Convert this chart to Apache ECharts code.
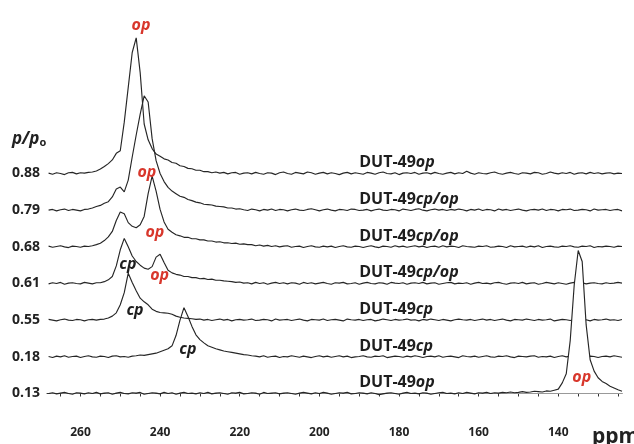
<!DOCTYPE html>
<html>
<head>
<meta charset="utf-8">
<script src="https://cdn.jsdelivr.net/npm/echarts@6/dist/echarts.min.js"></script>
<style>
html,body{margin:0;padding:0;background:#fff;}
#chart{width:634px;height:444px;}
</style>
</head>
<body>
<div id="chart"></div>
<script>
// chemical shift sampling (ppm), one point per ppm from 268 down to 124
const ppm = [];
for (let v = 268; v >= 124; v -= 1) ppm.push(v);

// relative pressures, bottom to top
const pressures = ['0.13', '0.18', '0.55', '0.61', '0.68', '0.79', '0.88'];
// phase tag of each spectrum, bottom to top
const phaseTags = ['op', 'cp', 'cp', 'cp/op', 'cp/op', 'cp/op', 'op'];
// x-axis labels and ticks
const axisLabels = [260, 240, 220, 200, 180, 160, 140];
const axisTicks = [125,130,135,140,145,150,155,160,165,170,175,180,185,190,195,200,205,210,215,220,225,230,235,240,245,250,255,260,265];

// spectra intensities (row spacing = 1), ppm 268 -> 124
const s013 = [
0.00,0.02,-0.01,0.01,0.03,0.00,-0.02,0.02,0.01,-0.01,
0.02,0.00,0.03,-0.01,0.01,0.02,-0.02,0.01,0.03,0.00,
-0.01,0.02,0.01,0.03,-0.02,0.00,0.02,0.01,-0.01,0.03,
0.00,0.02,-0.02,0.01,0.03,0.00,0.01,-0.01,0.02,0.00,
0.03,-0.01,0.01,0.02,0.00,-0.02,0.02,0.01,0.03,-0.01,
0.00,0.02,0.01,-0.02,0.03,0.00,0.01,0.02,-0.01,0.01,
0.02,0.00,-0.02,0.01,0.03,0.01,-0.01,0.02,0.00,0.03,
0.01,-0.02,0.00,0.02,0.01,0.03,-0.01,0.00,0.02,0.01,
-0.01,0.02,0.00,-0.03,-0.01,0.01,0.02,0.00,-0.02,0.01,
0.03,0.00,0.01,-0.01,0.02,0.01,-0.02,0.00,0.02,0.03,
0.00,0.01,-0.01,0.02,0.00,0.03,0.01,-0.01,0.02,0.01,
0.03,0.00,0.02,0.01,0.03,0.02,0.04,0.02,0.03,0.05,
0.03,0.04,0.06,0.05,0.04,0.07,0.06,0.09,0.12,0.29,
0.54,1.45,2.96,3.90,3.60,1.87,0.92,0.61,0.43,0.33,
0.27,0.20,0.15,0.10,0.06];

const s018 = [
0.01,-0.02,0.02,0.00,0.03,-0.01,0.01,0.02,-0.02,0.01,
0.03,0.00,-0.01,0.02,0.01,-0.02,0.02,0.03,0.00,0.01,
-0.01,0.02,0.03,0.05,0.04,0.06,0.08,0.10,0.14,0.18,
0.22,0.30,0.58,1.00,1.34,1.10,0.83,0.60,0.47,0.38,
0.30,0.26,0.22,0.19,0.16,0.14,0.12,0.10,0.08,0.06,
0.05,0.03,0.02,0.00,0.03,-0.01,0.01,0.02,-0.02,0.01,
0.00,0.03,0.01,-0.01,0.02,0.00,-0.02,0.01,0.03,0.00,
0.02,-0.01,0.01,0.03,0.00,0.02,-0.02,0.00,0.01,0.03,
0.00,-0.01,0.02,0.01,0.03,-0.02,0.00,0.02,0.01,-0.01,
0.02,0.00,0.03,0.01,-0.02,0.01,0.02,0.00,0.03,-0.01,
0.01,0.02,0.00,-0.02,0.03,0.01,0.00,0.02,-0.01,0.01,
0.03,0.00,-0.01,0.02,0.01,0.03,0.00,-0.02,0.02,0.01,
0.00,0.02,0.03,-0.01,0.01,0.00,0.02,-0.02,0.01,0.03,
0.00,0.02,0.01,-0.01,0.03,0.00,0.02,0.01,-0.02,0.01,
0.02,0.00,0.03,0.01,-0.01];

const s055 = [
0.02,0.00,-0.02,0.01,0.03,0.00,-0.01,0.02,0.01,-0.02,
0.01,0.02,0.00,0.02,0.03,0.06,0.11,0.20,0.42,0.75,
1.28,1.03,0.80,0.60,0.50,0.42,0.30,0.24,0.21,0.20,
0.19,0.16,0.11,0.08,0.06,0.05,0.04,0.02,0.03,0.00,
0.02,-0.01,0.01,0.03,0.00,0.02,-0.02,0.01,0.02,0.00,
0.01,0.03,-0.01,0.00,0.02,0.01,-0.02,0.03,0.00,0.01,
0.02,-0.01,0.01,0.03,0.00,-0.02,0.02,0.01,0.00,0.03,
-0.01,0.01,0.02,0.00,-0.02,0.03,0.01,0.00,0.02,-0.01,
0.01,0.02,-0.02,0.00,0.03,0.01,-0.01,0.02,0.00,0.01,
0.03,0.00,0.01,-0.02,0.02,0.00,0.03,0.01,-0.01,0.02,
0.00,-0.02,0.01,0.03,0.01,0.00,0.02,-0.01,0.01,0.03,
0.00,0.02,-0.01,0.01,0.03,0.00,-0.02,0.02,0.01,0.00,
0.03,0.01,-0.01,0.02,0.00,0.01,0.03,-0.02,0.00,0.02,
0.01,-0.01,0.02,0.03,0.00,0.01,-0.02,0.02,0.00,0.01,
0.03,0.00,0.01,-0.01,0.02];

const s061 = [
-0.01,0.02,0.00,0.03,-0.02,0.01,0.02,0.00,-0.01,0.03,
0.01,-0.01,0.02,0.02,0.05,0.10,0.19,0.48,0.92,1.23,
1.00,0.75,0.60,0.50,0.42,0.39,0.46,0.72,0.80,0.57,
0.36,0.29,0.25,0.23,0.19,0.19,0.16,0.16,0.13,0.14,
0.11,0.12,0.09,0.09,0.07,0.06,0.05,0.03,0.04,0.01,
0.02,-0.01,0.03,0.00,0.02,-0.02,0.01,0.03,0.00,0.02,
-0.01,0.02,0.01,-0.02,0.03,0.00,0.02,-0.01,0.01,0.03,
0.00,-0.02,0.02,0.01,0.03,-0.01,0.00,0.02,-0.02,0.01,
0.03,0.00,-0.01,0.02,0.01,-0.02,0.03,0.01,0.00,0.02,
-0.02,0.01,0.02,0.00,0.03,-0.01,0.01,0.02,-0.02,0.00,
0.02,0.03,-0.01,0.01,0.00,0.02,-0.02,0.01,0.03,0.00,
0.01,-0.01,0.02,0.03,0.00,-0.02,0.01,0.02,0.00,0.03,
-0.01,0.01,0.02,-0.02,0.00,0.03,0.01,-0.01,0.02,0.00,
-0.02,0.01,0.03,0.00,0.02,-0.01,0.01,0.02,0.00,-0.01,
0.02,0.00,0.01,0.03,0.01];

const s068 = [
0.02,-0.01,0.01,0.03,0.00,-0.02,0.02,0.01,-0.01,0.02,
0.01,0.03,0.06,0.10,0.17,0.27,0.42,0.72,0.95,0.90,
0.66,0.56,0.52,0.60,0.83,1.45,1.93,1.52,1.02,0.68,
0.48,0.40,0.33,0.30,0.26,0.26,0.22,0.22,0.19,0.19,
0.16,0.16,0.13,0.14,0.11,0.11,0.09,0.10,0.07,0.08,
0.06,0.06,0.03,0.05,0.02,0.04,0.01,0.03,0.00,0.02,
0.03,-0.01,0.01,0.02,-0.02,0.01,0.03,0.00,-0.01,0.02,
0.00,0.02,-0.02,0.01,0.03,0.00,-0.01,0.02,0.01,-0.02,
0.01,0.03,0.00,-0.02,0.02,0.01,-0.01,0.03,0.00,0.02,
-0.01,0.01,0.03,0.00,0.02,-0.02,0.01,0.02,-0.01,0.03,
0.00,0.02,0.01,-0.02,0.03,0.01,0.00,-0.01,0.02,0.01,
0.03,-0.01,0.00,0.02,0.01,-0.02,0.03,0.00,0.01,0.02,
-0.01,0.02,0.00,0.03,-0.02,0.01,0.02,0.00,-0.01,0.02,
0.01,0.03,0.00,-0.01,0.02,0.01,0.03,-0.02,0.01,0.00,
0.02,0.01,-0.01,0.02,0.01];

const s079 = [
0.00,0.02,-0.02,0.01,0.03,-0.01,0.02,0.00,-0.02,0.02,
0.03,0.06,0.10,0.13,0.19,0.23,0.36,0.58,0.63,0.50,
0.82,1.45,2.05,2.62,3.12,2.95,1.95,1.35,1.00,0.78,
0.62,0.52,0.45,0.38,0.35,0.29,0.26,0.22,0.20,0.16,
0.15,0.14,0.11,0.10,0.09,0.06,0.06,0.03,0.04,0.01,
-0.01,0.03,0.01,-0.02,0.02,0.00,0.03,-0.01,0.02,0.01,
-0.02,0.01,0.03,0.00,-0.01,0.02,0.04,0.01,-0.02,0.01,
0.03,0.00,-0.02,0.02,0.01,-0.01,0.03,0.02,-0.01,0.00,
0.02,-0.02,0.01,0.03,0.00,-0.01,0.02,0.01,-0.02,0.03,
0.01,-0.01,0.02,0.04,0.00,-0.02,0.01,0.03,0.00,0.02,
-0.01,0.02,0.00,0.03,0.01,-0.02,0.02,0.00,0.03,-0.01,
0.02,0.01,-0.02,0.03,0.00,0.02,-0.01,0.01,0.03,0.00,
-0.02,0.01,0.02,0.00,0.03,-0.01,0.02,0.01,-0.02,0.02,
0.01,0.03,-0.01,0.00,0.02,0.01,-0.02,0.03,0.00,0.01,
0.02,-0.01,0.01,0.02,-0.02];

const s088 = [
0.01,-0.02,0.02,0.00,-0.03,0.02,0.03,-0.01,0.02,0.01,
0.03,0.04,0.07,0.12,0.19,0.27,0.37,0.55,0.62,1.40,
2.35,3.30,3.70,2.75,1.35,0.92,0.68,0.53,0.47,0.40,
0.37,0.30,0.28,0.21,0.19,0.14,0.13,0.09,0.09,0.05,
0.05,0.02,0.04,0.01,0.03,-0.01,0.02,0.03,-0.02,0.01,
0.02,-0.01,0.03,0.00,-0.02,0.02,0.01,-0.03,0.02,0.04,
0.00,-0.02,0.03,0.01,-0.01,0.04,0.02,-0.02,0.01,0.03,
-0.01,0.02,0.00,-0.03,0.01,0.03,-0.01,0.02,0.00,-0.02,
0.03,0.01,-0.02,0.02,0.04,0.00,-0.01,0.02,-0.03,0.01,
0.02,0.00,0.03,-0.02,0.01,0.02,-0.01,0.03,0.00,-0.02,
0.01,0.03,-0.01,0.02,0.00,0.06,0.01,-0.02,0.02,0.00,
-0.01,0.02,0.04,0.00,-0.02,0.01,0.03,0.00,-0.02,0.02,
0.01,-0.01,0.03,0.02,-0.02,0.00,0.04,0.01,-0.01,0.02,
0.00,0.03,-0.02,0.01,0.02,-0.01,0.03,0.00,0.02,-0.01,
0.01,0.02,-0.01,0.01,0.00];

const spectra = [s013, s018, s055, s061, s068, s079, s088];

const RED = '#d8372c';
const INK = '#1e1e1e';
const FONT = 'Open Sans';

const chart = echarts.init(document.getElementById('chart'), null, {renderer: 'canvas'});

// sample name labels (DUT-49xx), placed in data space
const nameMarks = phaseTags.map((tag, i) => ({
  coord: [190, i + 0.29],
  label: {
    show: true, position: 'right', distance: 0,
    formatter: '{n|DUT-49}{s|' + tag + '}',
    rich: {
      n: {fontFamily: FONT, fontWeight: 'bold', fontSize: 16, color: INK},
      s: {fontFamily: FONT, fontWeight: 'bold', fontStyle: 'italic', fontSize: 16, color: INK}
    }
  }
}));

function tag(text, color, x, y) {
  return {
    coord: [x, y],
    label: {
      show: true, position: 'inside', formatter: text,
      fontFamily: FONT, fontWeight: 'bold', fontStyle: 'italic', fontSize: 16, color: color
    }
  };
}
const peakMarks = [
  tag('op', RED, 244.8, 10.05),
  tag('op', RED, 243.3, 6.03),
  tag('op', RED, 241.3, 4.40),
  tag('op', RED, 240.1, 3.23),
  tag('cp', INK, 248.1, 3.53),
  tag('cp', INK, 246.3, 2.27),
  tag('cp', INK, 233.0, 1.21),
  tag('op', RED, 134.1, 0.44)
];

const series = [];
for (let i = spectra.length - 1; i >= 0; i--) {
  const s = {
    type: 'line',
    data: ppm.map((p, k) => [p, i + spectra[i][k]]),
    symbol: 'none',
    smooth: false,
    lineStyle: {color: '#262626', width: 1.15},
    silent: true,
    z: 2
  };
  if (i === 0) {
    s.areaStyle = {color: '#ffffff', opacity: 1, origin: 0};
    s.z = 3;
    s.markPoint = {
      symbol: 'rect', symbolSize: 0, silent: true, animation: false,
      data: nameMarks.concat(peakMarks)
    };
  }
  series.push(s);
}

chart.setOption({
  animation: false,
  backgroundColor: '#ffffff',
  grid: {left: 47, right: 12, top: 8.5, bottom: 23, containLabel: false},
  xAxis: {
    type: 'value', inverse: true, min: 124, max: 268.4,
    axisLine: {show: true, lineStyle: {color: '#333', width: 1}},
    axisTick: {show: true, length: 3, lineStyle: {color: '#333'}, customValues: axisTicks},
    axisLabel: {
      show: true, customValues: axisLabels, margin: 6,
      fontFamily: FONT, fontWeight: 'bold', fontSize: 12, color: '#222'
    },
    splitLine: {show: false}
  },
  yAxis: {
    type: 'value', min: -0.75, max: 10.5,
    axisLine: {show: false}, axisTick: {show: false}, splitLine: {show: false},
    axisLabel: {
      show: true, customValues: [0, 1, 2, 3, 4, 5, 6], margin: 7,
      formatter: v => pressures[Math.round(v)] || '',
      fontFamily: FONT, fontWeight: 'bold', fontSize: 14, color: '#222'
    }
  },
  graphic: [
    {
      type: 'text', left: 12, top: 131,
      style: {
        text: '{a|p/p}{b|o}',
        rich: {
          a: {fontFamily: FONT, fontWeight: 'bold', fontStyle: 'italic', fontSize: 17, fill: '#222'},
          b: {fontFamily: FONT, fontWeight: 'bold', fontSize: 11, fill: '#222', verticalAlign: 'bottom'}
        }
      }
    },
    {
      type: 'text', left: 592, top: 427,
      style: {text: 'ppm', fontFamily: FONT, fontWeight: 'bold', fontSize: 21, fill: '#222'}
    }
  ],
  series: series
});
</script>
</body>
</html>
